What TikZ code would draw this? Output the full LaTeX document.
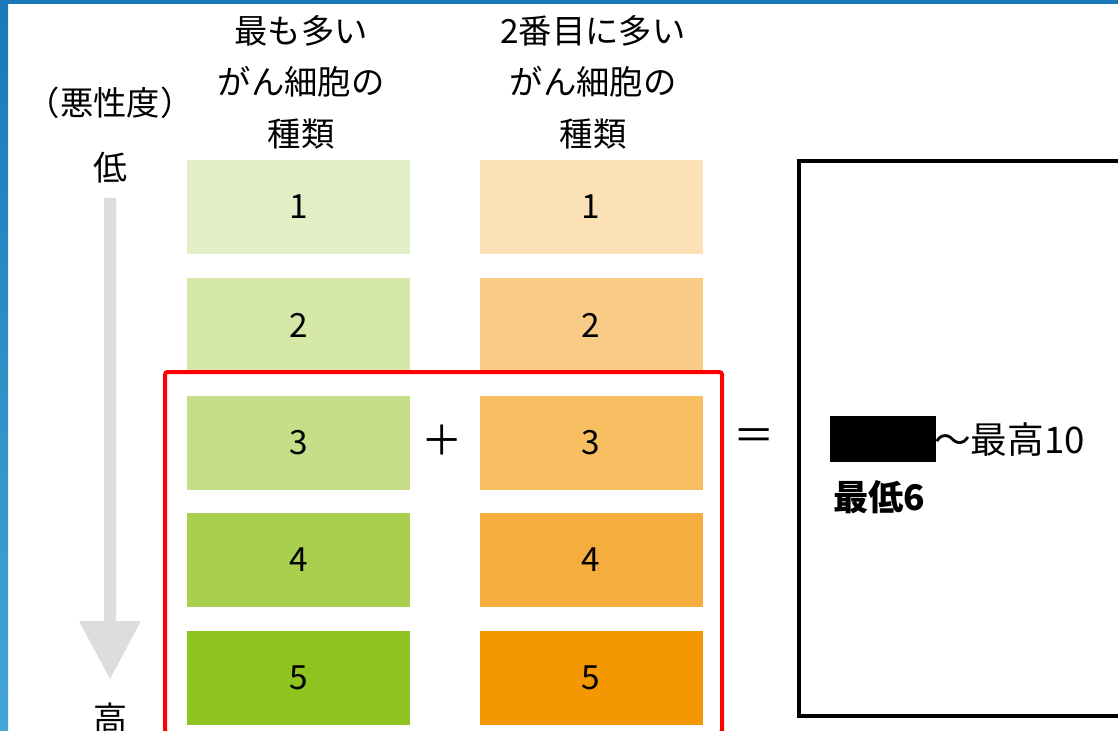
\documentclass[tikz,border=0pt]{standalone}
\usepackage{fontspec}
\setmainfont{Noto Sans CJK JP}
\usetikzlibrary{shadings}
\definecolor{gA}{HTML}{E2EFC6}
\definecolor{gB}{HTML}{D5E8A8}
\definecolor{gC}{HTML}{C4DF88}
\definecolor{gD}{HTML}{A8CF4E}
\definecolor{gE}{HTML}{8FC31F}
\definecolor{oA}{HTML}{FCE0B6}
\definecolor{oB}{HTML}{F8CC87}
\definecolor{oC}{HTML}{F7BE62}
\definecolor{oD}{HTML}{F5AE3E}
\definecolor{oE}{HTML}{F39800}
\definecolor{arrowgrey}{HTML}{DCDDDD}
\definecolor{frameblue}{HTML}{1A78B8}
\definecolor{frameblue2}{HTML}{45A5D5}
\tikzset{
  cell/.style={minimum width=223*0.75pt, minimum height=94*0.75pt, inner sep=0pt, font=\fontsize{25}{28}\selectfont},
  head/.style={align=center, font=\fontsize{25}{38.6}\selectfont, inner sep=0pt},
  lbl/.style={font=\fontsize{25.5}{28}\selectfont, inner sep=0pt},
}
\begin{document}
\begin{tikzpicture}[x=0.75pt, y=-0.75pt]
\useasboundingbox (0,0) rectangle (1118,731);
\fill[white] (0,0) rectangle (1118,731);
% frame strips
\shade[top color=frameblue, bottom color=frameblue2] (0,0) rectangle (8,731);
\fill[frameblue] (0,0) rectangle (1118,4);
% headers
\node[head] (h1) at (301,82) {最も多い\\がん細胞の\\種類};
\node[head] (h2) at (593,82) {2番目に多い\\がん細胞の\\種類};
\node[lbl, font=\fontsize{25}{28}\selectfont] (mal) at (110,103) {（悪性度）};
\node[lbl] (low) at (110,168) {低};
\node[lbl, anchor=north] (high) at (110,703) {高};
% grey arrow
\fill[arrowgrey] (104,198) -- (116,198) -- (116,621) -- (141,621) -- (110,679) -- (79,621) -- (104,621) -- cycle;
% columns
\foreach \i/\c/\y in {1/A/207,2/B/325,3/C/443,4/D/560,5/E/678}{
  \node[cell, fill=g\c] (g\i) at (298.5,\y) {\i};
  \node[cell, fill=o\c] (o\i) at (591,\y) {\i};
}
% operators
\node[lbl, font=\fontsize{31}{32}\selectfont] (plus) at (442,440) {＋};
\node[lbl, font=\fontsize{31}{32}\selectfont] (eq) at (754,440) {＝};
% red frame
\draw[red, line width=3pt, rounded corners=2pt] (165,372) rectangle (722,733);
% result box
\draw[black, line width=2.3pt] (799,161) rectangle (1125,716);
\fill[black] (830,416) rectangle (936,462);
\node[lbl, anchor=west, font=\fontsize{27.5}{30}\selectfont] (max) at (934,440) {〜最高10};
\node[lbl, anchor=west, font=\fontsize{26.5}{28}\selectfont\bfseries] (min) at (833,497) {最低6};
\end{tikzpicture}
\end{document}
